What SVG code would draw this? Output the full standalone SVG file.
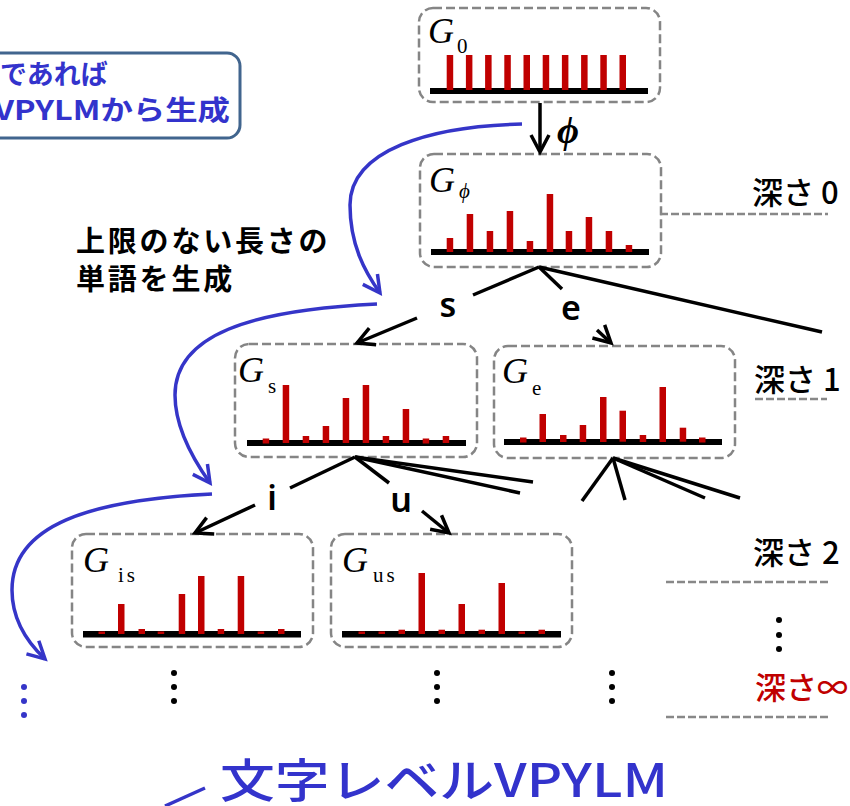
<svg xmlns="http://www.w3.org/2000/svg" width="850" height="806" viewBox="0 0 850 806">
<defs>
<style>
.box{fill:none;stroke:#858585;stroke-width:2.5;stroke-dasharray:9 4}
.base{fill:#000}
.bar{fill:#c00000}
.g{font-family:"Liberation Serif",serif;font-style:italic;font-size:36px;fill:#000}
.sub{font-family:"Liberation Serif",serif;font-size:21px;fill:#000}
.con{stroke:#000;stroke-width:3.5;fill:none}
.arr{marker-end:url(#ah)}
.blue{stroke:#3535c8;stroke-width:3.5;fill:none}
.lbl{font-family:"Noto Sans","Noto Sans CJK JP",sans-serif;font-size:34px;fill:#000;text-anchor:middle;font-weight:600}
.depth{font-family:"Noto Sans CJK JP",sans-serif;font-size:31px;font-weight:500}
.dl{stroke:#888;stroke-width:2.5;stroke-dasharray:8 3;fill:none}
.jp{font-family:"Noto Sans CJK JP",sans-serif;font-weight:bold}
</style>
<marker id="ah" markerUnits="userSpaceOnUse" markerWidth="40" markerHeight="40" refX="0" refY="0" orient="auto" overflow="visible" viewBox="-20 -20 40 40">
<path d="M-17,-9 L0,0 L-17,9" fill="none" stroke="#000" stroke-width="3.5"/>
</marker>
<marker id="bh" markerUnits="userSpaceOnUse" markerWidth="40" markerHeight="40" refX="0" refY="0" orient="auto" overflow="visible" viewBox="-20 -20 40 40">
<path d="M-17,-9 L0,0 L-17,9" fill="none" stroke="#3535c8" stroke-width="3.5"/>
</marker>
</defs>
<rect width="850" height="806" fill="#fff"/>

<g id="note">
<rect x="-20" y="53" width="260" height="85" rx="13" fill="#fff" stroke="#41658e" stroke-width="3"/>
<text class="jp" x="0" y="84" font-size="27" fill="#3333cc">であれば</text>
<text class="jp" x="-6" y="120" font-size="27" fill="#3333cc" textLength="236" lengthAdjust="spacingAndGlyphs">VPYLMから生成</text>
</g>

<g id="G0">
<rect class="box" x="419" y="8" width="241" height="94" rx="14"/>
<rect class="base" x="430" y="88" width="218" height="6"/>
<g class="bar">
<rect x="446.7" y="55" width="6.5" height="35"/><rect x="465.9" y="55" width="6.5" height="35"/><rect x="485.1" y="55" width="6.5" height="35"/><rect x="504.3" y="55" width="6.5" height="35"/><rect x="523.5" y="55" width="6.5" height="35"/><rect x="542.7" y="55" width="6.5" height="35"/><rect x="561.9" y="55" width="6.5" height="35"/><rect x="581.1" y="55" width="6.5" height="35"/><rect x="600.3" y="55" width="6.5" height="35"/><rect x="619.5" y="55" width="6.5" height="35"/>
</g>
<text class="g" x="428" y="43">G</text><text class="sub" x="457" y="53">0</text>
</g>

<g id="Gphi">
<rect class="box" x="420" y="154" width="241" height="113" rx="14"/>
<rect class="base" x="431" y="249" width="218" height="6"/>
<g class="bar">
<rect x="446.7" y="238" width="6.5" height="14"/><rect x="466.7" y="214" width="6.5" height="38"/><rect x="486.7" y="231" width="6.5" height="21"/><rect x="506.7" y="211" width="6.5" height="41"/><rect x="526.7" y="241" width="6.5" height="11"/><rect x="546.7" y="194" width="6.5" height="58"/><rect x="565.7" y="231" width="6.5" height="21"/><rect x="585.7" y="217" width="6.5" height="35"/><rect x="605.7" y="231" width="6.5" height="21"/><rect x="625.7" y="245" width="6.5" height="7"/>
</g>
<text class="g" x="429" y="192">G</text><text class="sub" x="459" y="198" font-style="italic">ϕ</text>
</g>

<g id="Gs">
<rect class="box" x="235" y="344" width="242" height="113" rx="14"/>
<rect class="base" x="247" y="440" width="219" height="6"/>
<g class="bar">
<rect x="262.7" y="438.5" width="6.5" height="5"/><rect x="282.7" y="385" width="6.5" height="58"/><rect x="302.7" y="436" width="6.5" height="7"/><rect x="322.7" y="426" width="6.5" height="17"/><rect x="342.7" y="398" width="6.5" height="45"/><rect x="362.7" y="385" width="6.5" height="58"/><rect x="382.7" y="436" width="6.5" height="7"/><rect x="402.7" y="409" width="6.5" height="34"/><rect x="422.7" y="438.5" width="6.5" height="5"/><rect x="442.7" y="436" width="6.5" height="7"/>
</g>
<text class="g" x="238" y="382">G</text><text class="sub" x="268" y="393">s</text>
</g>

<g id="Ge">
<rect class="box" x="494" y="346" width="241" height="112" rx="14"/>
<rect class="base" x="504" y="439" width="218" height="6"/>
<g class="bar">
<rect x="520" y="437.5" width="6.5" height="5"/><rect x="539.5" y="414" width="6.5" height="28"/><rect x="560" y="435" width="6.5" height="7"/><rect x="579.7" y="425" width="6.5" height="17"/><rect x="600" y="397" width="6.5" height="45"/><rect x="619.5" y="410.7" width="6.5" height="31"/><rect x="639.7" y="435" width="6.5" height="7"/><rect x="659.5" y="387" width="6.5" height="55"/><rect x="679.7" y="427.7" width="6.5" height="14"/><rect x="699" y="437.5" width="6.5" height="5"/>
</g>
<text class="g" x="502" y="383">G</text><text class="sub" x="532" y="395">e</text>
</g>

<g id="Gis">
<rect class="box" x="72" y="534" width="241" height="113" rx="14"/>
<rect class="base" x="83" y="631" width="218" height="6.5"/>
<g class="bar">
<rect x="98.5" y="631.5" width="6.5" height="2.5"/><rect x="118" y="604" width="6.5" height="30"/><rect x="138.5" y="629" width="6.5" height="5"/><rect x="157.7" y="631.5" width="6.5" height="2.5"/><rect x="178.7" y="594" width="6.5" height="40"/><rect x="198" y="576" width="6.5" height="58"/><rect x="217.7" y="629" width="6.5" height="5"/><rect x="237.7" y="576" width="6.5" height="58"/><rect x="257.7" y="631.5" width="6.5" height="2.5"/><rect x="278" y="629" width="6.5" height="5"/>
</g>
<text class="g" x="83" y="572">G</text><text class="sub" x="118" y="582" letter-spacing="3">is</text>
</g>

<g id="Gus">
<rect class="box" x="331" y="534" width="241" height="113" rx="14"/>
<rect class="base" x="342" y="631" width="219" height="6.5"/>
<g class="bar">
<rect x="358.5" y="631.5" width="6.5" height="2.5"/><rect x="378.5" y="631.5" width="6.5" height="2.5"/><rect x="398.5" y="629.7" width="6.5" height="4.3"/><rect x="418.5" y="573" width="6.5" height="61"/><rect x="438.5" y="629.7" width="6.5" height="4.3"/><rect x="458.5" y="604" width="6.5" height="30"/><rect x="478.5" y="629.7" width="6.5" height="4.3"/><rect x="498.5" y="583" width="6.5" height="51"/><rect x="518.5" y="631.5" width="6.5" height="2.5"/><rect x="538.5" y="629.7" width="6.5" height="4.3"/>
</g>
<text class="g" x="342" y="572">G</text><text class="sub" x="373" y="582" letter-spacing="3">us</text>
</g>

<g id="connectors">
<line class="con arr" x1="540" y1="103" x2="540" y2="152"/>
<line class="con" x1="539" y1="267" x2="473" y2="295"/>
<line class="con" x1="539" y1="267" x2="562" y2="289"/>
<line class="con" x1="539" y1="267" x2="822" y2="332"/>
<line class="con arr" x1="417" y1="318" x2="357" y2="343"/>
<line class="con arr" x1="597" y1="330" x2="611" y2="343"/>
<line class="con" x1="355" y1="457" x2="290" y2="488"/>
<line class="con" x1="355" y1="457" x2="389" y2="483"/>
<line class="con" x1="355" y1="457" x2="533" y2="482"/>
<line class="con" x1="355" y1="457" x2="520" y2="493"/>
<line class="con arr" x1="255" y1="505" x2="195" y2="533"/>
<line class="con arr" x1="422" y1="511" x2="449" y2="533"/>
<line class="con" x1="613" y1="458" x2="582" y2="501"/>
<line class="con" x1="613" y1="458" x2="625" y2="500"/>
<line class="con" x1="613" y1="458" x2="740" y2="498"/>
<line class="con" x1="613" y1="458" x2="705" y2="498"/>
<path class="blue" marker-end="url(#bh)" d="M522,124 C430,126 350,150 350,205 C350,245 365,272 380,293"/>
<path class="blue" marker-end="url(#bh)" d="M377,304 C250,310 175,335 175,395 C175,430 195,462 210,483"/>
<path class="blue" marker-end="url(#bh)" d="M212,494 C90,500 12,525 12,590 C12,620 28,643 45,659"/>
<line class="blue" x1="165" y1="806" x2="205" y2="788"/>
</g>

<g id="labels">
<text x="557" y="143" font-family="Liberation Serif,serif" font-style="italic" font-weight="bold" font-size="38">ϕ</text>
<text class="lbl" x="448" y="317">s</text>
<text class="lbl" x="571" y="320">e</text>
<text class="lbl" x="272" y="510">i</text>
<text class="lbl" x="401" y="512">u</text>
<text class="jp" x="76" y="252" font-size="29" letter-spacing="2.8">上限のない長さの</text>
<text class="jp" x="76" y="290" font-size="29" letter-spacing="2.8">単語を生成</text>
</g>

<g id="depths">
<line class="dl" x1="660" y1="214" x2="828" y2="214"/>
<text class="depth" x="752" y="204">深さ 0</text>
<line class="dl" x1="755" y1="399" x2="827" y2="399"/>
<text class="depth" x="754" y="391">深さ 1</text>
<line class="dl" x1="666" y1="582" x2="828" y2="582"/>
<text class="depth" x="753" y="564">深さ 2</text>
<circle cx="779" cy="620" r="3"/><circle cx="779" cy="635" r="3"/><circle cx="779" cy="649" r="3"/>
<text class="depth" x="755" y="699" style="fill:#c00000">深さ∞</text>
<line class="dl" x1="666" y1="717" x2="828" y2="717"/>
</g>

<g id="dots">
<circle cx="174" cy="673" r="3"/><circle cx="174" cy="687" r="3"/><circle cx="174" cy="701" r="3"/>
<circle cx="437" cy="673" r="3"/><circle cx="437" cy="687" r="3"/><circle cx="437" cy="701" r="3"/>
<circle cx="612" cy="673" r="3"/><circle cx="612" cy="687" r="3"/><circle cx="612" cy="701" r="3"/>
<g fill="#3535c8"><circle cx="24" cy="687" r="3"/><circle cx="24" cy="701" r="3"/><circle cx="24" cy="715" r="3"/></g>
</g>

<text id="title" x="220" y="797" font-family="Noto Sans CJK JP,sans-serif" font-weight="500" font-size="46" fill="#3333cc" textLength="448" lengthAdjust="spacingAndGlyphs">文字レベルVPYLM</text>
</svg>
